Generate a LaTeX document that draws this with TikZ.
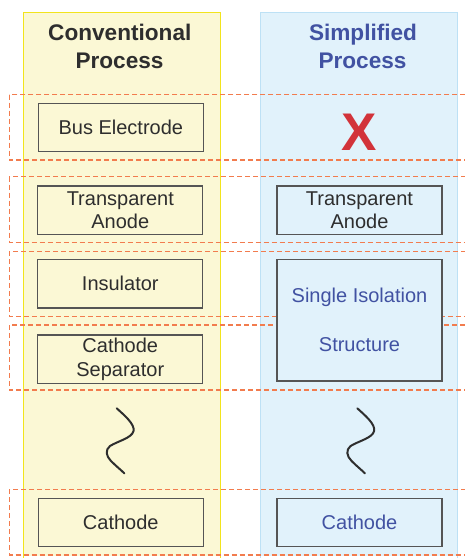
\documentclass[tikz,border=0pt]{standalone}
\usepackage{fontspec}
\setmainfont{Liberation Sans}
\definecolor{colYfill}{HTML}{FBF8D5}
\definecolor{colYline}{HTML}{F2E41C}
\definecolor{colBfill}{HTML}{E1F2FB}
\definecolor{colBline}{HTML}{BDE1F5}
\definecolor{rowdash}{HTML}{F27C4E}
\definecolor{txtdark}{HTML}{2E2E2E}
\definecolor{txtblue}{HTML}{4152A2}
\definecolor{boxline}{HTML}{555555}
\definecolor{crossred}{HTML}{D2333A}
\tikzset{
  titletxt/.style={font=\fontsize{22.6}{27.6}\selectfont\bfseries, inner sep=0pt, anchor=base},
  stepbox/.style={draw=boxline, line width=1.3pt, inner sep=0pt, minimum width=165pt,
     minimum height=48.5pt, align=center, text=txtdark,
     font=\fontsize{20}{23.3}\selectfont},
  leftbox/.style={stepbox, fill=colYfill},
  rightbox/.style={stepbox, fill=colBfill},
  rowframe/.style={draw=rowdash, line width=1.1pt, dash pattern=on 5pt off 3pt},
  squiggle/.style={draw=txtdark, line width=2pt, line cap=round, line join=round}
}
\begin{document}
\begin{tikzpicture}[x=1pt, y=-1pt]
  \useasboundingbox (0,0) rectangle (465,558);
  \clip (0,0) rectangle (465,558);
  % two process columns
  \fill[colYfill] (23,12.3) rectangle (220.7,556);
  \draw[colYline, line width=1pt] (23,12.3) -- (220.7,12.3) (23,12.3) -- (23,560) (220.7,12.3) -- (220.7,560);
  \fill[colBfill] (260.7,12.3) rectangle (457.3,556);
  \draw[colBline, line width=1pt] (260.7,12.3) -- (457.3,12.3) (260.7,12.3) -- (260.7,560) (457.3,12.3) -- (457.3,560);
  % column headings
  \node[titletxt, text=txtdark] (convA) at (119.8,40.7) {Conventional};
  \node[titletxt, text=txtdark] (convB) at (119.5,68.3) {Process};
  \node[titletxt, text=txtblue] (simpA) at (363,40.7) {Simplified};
  \node[titletxt, text=txtblue] (simpB) at (362.5,68.3) {Process};
  % dashed rows grouping corresponding layers
  \draw[rowframe] (9.3,94.7) rectangle (480,160);
  \draw[rowframe] (9.3,176.7) rectangle (480,242.3);
  \draw[rowframe] (9.3,251.3) rectangle (480,316.7);
  \draw[rowframe] (9.3,325) rectangle (480,390);
  \draw[rowframe] (9.3,489.3) rectangle (480,555);
  % conventional layers
  \node[leftbox] (bus) at (120.8,127.5) {Bus Electrode};
  \node[leftbox] (anodeL) at (120.3,210.3) {Transparent\\Anode};
  \node[leftbox] (insul) at (120.3,283.8) {Insulator};
  \node[leftbox] (sep) at (120.3,359.2) {Cathode\\Separator};
  \node[leftbox] (cathL) at (120.8,522.5) {Cathode};
  % simplified layers
  \node[text=crossred, font=\fontsize{53}{53}\selectfont\bfseries, inner sep=0pt, anchor=base] (cross) at (359,150) {X};
  \node[rightbox] (anodeR) at (359.5,210.3) {Transparent\\Anode};
  \node[rightbox, minimum height=121.7pt, text=txtblue, font=\fontsize{20}{49}\selectfont] (iso) at (359.5,320.2) {Single Isolation\\Structure};
  \node[rightbox, text=txtblue] (cathR) at (359.5,522.5) {Cathode};
  % break marks
  \foreach \dx in {0,240.6}{
    \draw[squiggle] (116.7+\dx,408.3) .. controls (124+\dx,415) and (135+\dx,424) .. (133.5+\dx,431)
      .. controls (132+\dx,438) and (118+\dx,441) .. (110+\dx,446)
      .. controls (105+\dx,450) and (106+\dx,456) .. (111+\dx,461)
      .. controls (116+\dx,466) and (121+\dx,470) .. (124.3+\dx,473.3);
  }
\end{tikzpicture}
\end{document}
